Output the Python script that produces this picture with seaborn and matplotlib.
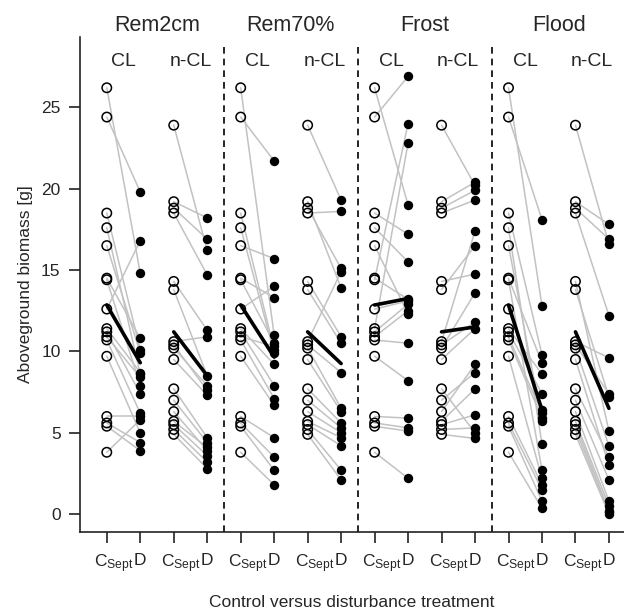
import numpy as np
import pandas as pd
import matplotlib
matplotlib.use("Agg")
import matplotlib.pyplot as plt
import matplotlib.transforms as mtransforms
import seaborn as sns

# ---------------- data ----------------
treatments = ["Rem2cm", "Rem70%", "Frost", "Flood"]
clonal = ["CL", "n-CL"]
tick_labels = [r"C$_{\mathrm{Sept}}$", "D"]

cl_control = [26.2, 24.4, 18.5, 17.6, 16.5, 14.5, 14.4, 12.6, 11.4, 11.2, 10.9, 10.7, 9.7, 6.0, 5.6, 5.4, 3.8]
ncl_control = [23.9, 19.2, 18.8, 18.5, 14.3, 13.8, 10.6, 10.4, 10.2, 9.5, 7.7, 7.0, 6.3, 5.7, 5.5, 5.2, 4.9]

rem2cm_cl_D = [14.8, 19.8, 10.1, 8.6, 9.9, 10.8, 7.9, 16.8, 8.7, 7.4, 8.4, 6.2, 5.0, 6.0, 4.4, 3.9, 5.8]
rem2cm_ncl_D = [16.2, 18.2, 16.9, 14.7, 11.3, 8.5, 10.9, 7.6, 7.9, 7.3, 4.7, 4.4, 3.9, 4.1, 3.6, 3.2, 2.8]
rem70_cl_D = [11.0, 21.7, 10.1, 9.9, 15.7, 13.3, 10.5, 14.0, 9.2, 7.9, 10.3, 7.1, 6.7, 4.7, 3.5, 2.7, 1.8]
rem70_ncl_D = [19.3, 13.9, 15.1, 18.6, 10.9, 10.5, 14.9, 8.7, 6.5, 6.3, 5.6, 5.3, 5.0, 4.7, 4.2, 2.7, 2.1]
frost_cl_D = [19.0, 26.9, 17.2, 15.5, 12.3, 13.2, 24.0, 13.1, 22.8, 12.9, 12.5, 10.5, 8.2, 5.9, 5.3, 5.1, 2.2]
frost_ncl_D = [20.2, 20.4, 19.9, 19.3, 14.75, 16.5, 17.4, 11.8, 13.6, 11.4, 5.0, 8.7, 9.2, 7.7, 6.1, 5.3, 4.65]
flood_cl_D = [12.8, 18.1, 9.8, 4.3, 5.7, 9.3, 2.7, 6.4, 8.6, 7.4, 6.2, 5.9, 2.2, 1.8, 1.5, 0.8, 0.35]
flood_ncl_D = [16.6, 17.8, 16.9, 12.2, 5.1, 7.2, 9.6, 7.4, 4.2, 3.0, 3.5, 2.1, 0.8, 0.5, 0.2, 0.1, 0.0]

mean_control = [12.85, 11.2]              # CL, n-CL
mean_D_cl = [9.3, 9.65, 13.25, 6.4]       # per treatment
mean_D_ncl = [8.5, 9.25, 11.5, 6.5]

disturbed = {
    ("Rem2cm", "CL"): rem2cm_cl_D, ("Rem2cm", "n-CL"): rem2cm_ncl_D,
    ("Rem70%", "CL"): rem70_cl_D, ("Rem70%", "n-CL"): rem70_ncl_D,
    ("Frost", "CL"): frost_cl_D, ("Frost", "n-CL"): frost_ncl_D,
    ("Flood", "CL"): flood_cl_D, ("Flood", "n-CL"): flood_ncl_D,
}
controls = {"CL": cl_control, "n-CL": ncl_control}
mean_D = {"CL": mean_D_cl, "n-CL": mean_D_ncl}

rows, mrows = [], []
for g, t in enumerate(treatments):
    for k, c in enumerate(clonal):
        x0 = 4 * g + 2 * k
        for i, (cv, dv) in enumerate(zip(controls[c], disturbed[(t, c)])):
            pid = f"{t}-{c}-{i}"
            rows.append(dict(pair=pid, x=x0, y=cv, kind="C"))
            rows.append(dict(pair=pid, x=x0 + 1, y=dv, kind="D"))
        mid = f"{t}-{c}"
        mrows.append(dict(pair=mid, x=x0, y=mean_control[k]))
        mrows.append(dict(pair=mid, x=x0 + 1, y=mean_D[c][g]))
df = pd.DataFrame(rows)
mdf = pd.DataFrame(mrows)

# ---------------- style ----------------
sns.set_style("ticks")
plt.rcParams["font.family"] = ["Liberation Sans", "DejaVu Sans"]
plt.rcParams["mathtext.fontset"] = "custom"
plt.rcParams["mathtext.rm"] = "Liberation Sans"
plt.rcParams["mathtext.it"] = "Liberation Sans:italic"

fig = plt.figure(figsize=(6.24, 6.11), dpi=100)
ax = fig.add_axes([80 / 624, 79 / 611, 544 / 624, 495 / 611])

sns.lineplot(data=df, x="x", y="y", units="pair", estimator=None, sort=False,
             color="#c2c2c2", lw=1.1, ax=ax, legend=False, zorder=1)
sns.lineplot(data=mdf, x="x", y="y", units="pair", estimator=None, sort=False,
             color="black", lw=2.6, ax=ax, legend=False, zorder=2)
sns.scatterplot(data=df[df.kind == "C"], x="x", y="y", marker="o", s=46,
                facecolor="none", edgecolor="black", linewidth=1.1, ax=ax,
                legend=False, zorder=3)
sns.scatterplot(data=df[df.kind == "D"], x="x", y="y", marker="o", s=46,
                color="black", linewidth=0, ax=ax, legend=False, zorder=3)

for xv in [3.5, 7.5, 11.5]:
    ax.axvline(xv, ymin=0, ymax=0.98, color="black", ls=(0, (4, 3)), lw=1.2)

ax.set_xlim(-0.8, 15.45)
ax.set_ylim(-1.1, 29.32)
ax.set_yticks([0, 5, 10, 15, 20, 25])
ax.set_xticks(range(16))
ax.set_xticklabels([tick_labels[i % 2] for i in range(16)])
ax.tick_params(axis="both", length=8, width=1.2, labelsize=12.5, pad=6, color="#222222")
ax.tick_params(axis="x", pad=7)
for i, lab in enumerate(ax.get_xticklabels()):
    if i % 2 == 0:
        off = mtransforms.ScaledTranslation(7 / 100, 0, fig.dpi_scale_trans)
        lab.set_transform(lab.get_transform() + off)

sns.despine(ax=ax)
for s in ["left", "bottom"]:
    ax.spines[s].set_linewidth(1.2)
    ax.spines[s].set_color("#222222")

ax.set_ylabel("Aboveground biomass [g]", fontsize=12.5, labelpad=6)
ax.set_xlabel("Control versus disturbance treatment", fontsize=12.5, labelpad=14)

for g, t in enumerate(treatments):
    ax.text(4 * g + 1.5, 30.0, t, ha="center", va="center", fontsize=15.5, clip_on=False)
    for k, c in enumerate(clonal):
        ax.text(4 * g + 2 * k + 0.5, 27.8, c, ha="center", va="center", fontsize=14)

fig.savefig("out.png", dpi=100)
